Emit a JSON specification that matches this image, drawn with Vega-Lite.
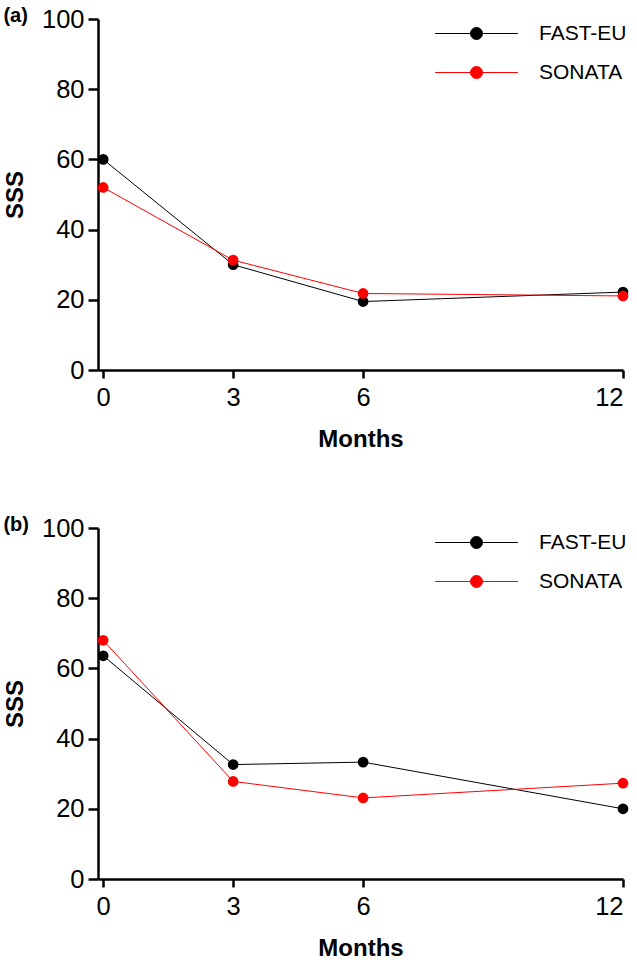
{
  "$schema": "https://vega.github.io/schema/vega-lite/v6.json",
  "padding": {"left": 3, "top": 6, "right": 0, "bottom": 0},
  "background": "white",
  "config": {
    "view": {"stroke": null},
    "font": "Liberation Sans",
    "axis": {
      "domainColor": "black", "domainWidth": 2.5, "tickColor": "black", "tickWidth": 2.5,
      "labelFont": "Liberation Sans", "labelFontSize": 25.5, "labelColor": "black",
      "titleFont": "Liberation Sans", "titleFontSize": 24, "titleFontWeight": "bold", "titleColor": "black",
      "grid": false
    },
    "title": {"font": "Liberation Sans", "fontSize": 20, "fontWeight": "bold", "anchor": "start", "frame": "bounds", "color": "black", "offset": -19},
    "concat": {"spacing": 63}
  },
  "resolve": {"scale": {"color": "independent"}, "legend": {"color": "independent"}},
  "vconcat": [
    {
      "title": {"text": "(a)"},
      "width": 525, "height": 351,
      "data": {"values": [
        {"study": "FAST-EU", "month": 0, "sss": 60.0},
        {"study": "FAST-EU", "month": 3, "sss": 30.0},
        {"study": "FAST-EU", "month": 6, "sss": 19.5},
        {"study": "FAST-EU", "month": 12, "sss": 22.2},
        {"study": "SONATA", "month": 0, "sss": 52.0},
        {"study": "SONATA", "month": 3, "sss": 31.3},
        {"study": "SONATA", "month": 6, "sss": 21.8},
        {"study": "SONATA", "month": 12, "sss": 21.1}
      ]},
      "encoding": {
        "x": {"field": "month", "type": "quantitative", "scale": {"domain": [-0.12, 12], "nice": false, "zero": false},
              "axis": {"values": [0, 3, 6, 12], "title": "Months", "tickSize": 8, "labelPadding": 7, "titlePadding": 17}},
        "y": {"field": "sss", "type": "quantitative", "scale": {"domain": [0, 100], "nice": false},
              "axis": {"values": [0, 20, 40, 60, 80, 100], "title": "SSS", "tickSize": 10, "labelPadding": 4, "titlePadding": 14}},
        "color": {"field": "study", "type": "nominal",
                  "scale": {"domain": ["FAST-EU", "SONATA"], "range": ["#000000", "#ff0000"]},
                  "legend": {"title": null, "orient": "none", "legendX": 368, "legendY": 4,
                             "symbolType": "M-6.9,0H6.9M-1,0A1,1 0 1,1 1,0A1,1 0 1,1 -1,0Z",
                             "symbolSize": 144, "symbolStrokeWidth": 1, "labelOffset": 52,
                             "labelFont": "Liberation Sans", "labelFontSize": 21, "labelColor": "black",
                             "rowPadding": 17, "padding": 0,
                             "encode": {"symbols": {"update": {
                               "fill": {"signal": "datum.value === 'SONATA' ? '#ff0000' : '#000000'"},
                               "stroke": {"signal": "datum.value === 'SONATA' ? '#ff0000' : '#000000'"},
                               "opacity": {"value": 1}, "strokeWidth": {"value": 1}}}}}}
      },
      "layer": [
        {"mark": {"type": "line", "strokeWidth": 1}},
        {"mark": {"type": "point", "filled": true, "size": 115, "opacity": 1}}
      ]
    },
    {
      "title": {"text": "(b)"},
      "width": 525, "height": 351,
      "data": {"values": [
        {"study": "FAST-EU", "month": 0, "sss": 63.6},
        {"study": "FAST-EU", "month": 3, "sss": 32.6},
        {"study": "FAST-EU", "month": 6, "sss": 33.3},
        {"study": "FAST-EU", "month": 12, "sss": 20.0},
        {"study": "SONATA", "month": 0, "sss": 68.0},
        {"study": "SONATA", "month": 3, "sss": 27.8},
        {"study": "SONATA", "month": 6, "sss": 23.1},
        {"study": "SONATA", "month": 12, "sss": 27.3}
      ]},
      "encoding": {
        "x": {"field": "month", "type": "quantitative", "scale": {"domain": [-0.12, 12], "nice": false, "zero": false},
              "axis": {"values": [0, 3, 6, 12], "title": "Months", "tickSize": 8, "labelPadding": 7, "titlePadding": 17}},
        "y": {"field": "sss", "type": "quantitative", "scale": {"domain": [0, 100], "nice": false},
              "axis": {"values": [0, 20, 40, 60, 80, 100], "title": "SSS", "tickSize": 10, "labelPadding": 4, "titlePadding": 14}},
        "color": {"field": "study", "type": "nominal",
                  "scale": {"domain": ["FAST-EU", "SONATA"], "range": ["#000000", "#ff0000"]},
                  "legend": {"title": null, "orient": "none", "legendX": 368, "legendY": 4,
                             "symbolType": "M-6.9,0H6.9M-1,0A1,1 0 1,1 1,0A1,1 0 1,1 -1,0Z",
                             "symbolSize": 144, "symbolStrokeWidth": 1, "labelOffset": 52,
                             "labelFont": "Liberation Sans", "labelFontSize": 21, "labelColor": "black",
                             "rowPadding": 17, "padding": 0,
                             "encode": {"symbols": {"update": {
                               "fill": {"signal": "datum.value === 'SONATA' ? '#ff0000' : '#000000'"},
                               "stroke": {"signal": "datum.value === 'SONATA' ? '#ff0000' : '#000000'"},
                               "opacity": {"value": 1}, "strokeWidth": {"value": 1}}}}}}
      },
      "layer": [
        {"mark": {"type": "line", "strokeWidth": 1}},
        {"mark": {"type": "point", "filled": true, "size": 115, "opacity": 1}}
      ]
    }
  ]
}
